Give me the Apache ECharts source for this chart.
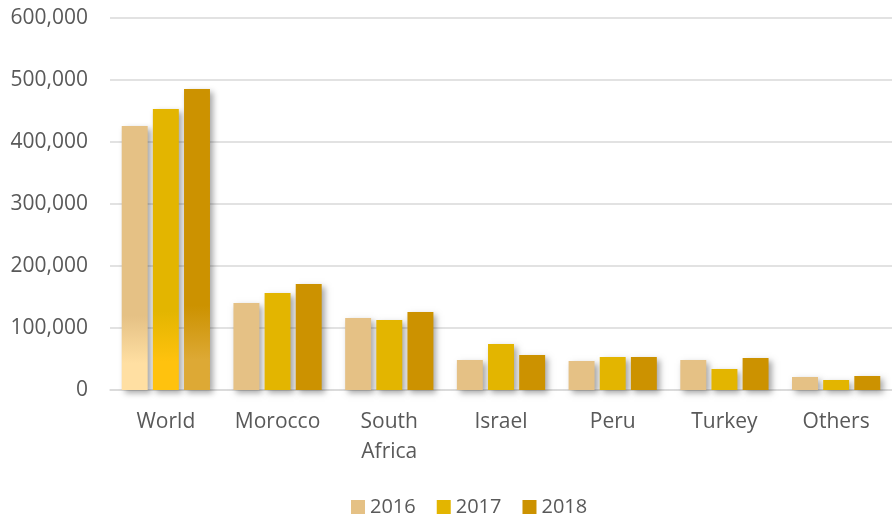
<!DOCTYPE html>
<html>
<head>
<meta charset="utf-8">
<script src="https://cdn.jsdelivr.net/npm/echarts@6/dist/echarts.min.js"></script>
<style>
  html, body { margin: 0; padding: 0; background: #ffffff; }
  #chart { width: 892px; height: 518px; }
</style>
</head>
<body>
<div id="chart"></div>
<script>
// Categories and yearly values
const categories = ['World', 'Morocco', 'South\nAfrica', 'Israel', 'Peru', 'Turkey', 'Others'];
const years = ['2016', '2017', '2018'];
const values2016 = [425800, 140300, 116100, 48400, 46800, 48400, 21000];
const values2017 = [453200, 156500, 112900, 74200, 53200, 33900, 16100];
const values2018 = [485500, 171000, 125800, 56500, 53200, 51600, 22600];
const yTicks = [0, 100000, 200000, 300000, 400000, 500000, 600000];

const colors = ['#E5C185', '#E3B500', '#CC9200'];
const lightColors = ['#FFDFA2', '#FFC20E', '#DDA935'];

const fontFamily = '"Open Sans", "Liberation Sans", sans-serif';

function makeSeries(name, data, idx) {
  return {
    name: name,
    type: 'bar',
    barGap: '20%',
    barCategoryGap: '21%',
    itemStyle: {
      color: colors[idx],
      shadowColor: 'rgba(0,0,0,0.35)',
      shadowBlur: 6,
      shadowOffsetX: 3,
      shadowOffsetY: 3
    },
    data: data.map(function (v, i) {
      if (i === 0) {
        // The world total fades lighter toward its base
        return {
          value: v,
          itemStyle: {
            color: new echarts.graphic.LinearGradient(0, 0, 0, 1, [
              { offset: 0, color: colors[idx] },
              { offset: 0.72, color: colors[idx] },
              { offset: 0.9, color: lightColors[idx] },
              { offset: 1, color: lightColors[idx] }
            ])
          }
        };
      }
      return v;
    })
  };
}

const chart = echarts.init(document.getElementById('chart'));
chart.setOption({
  animation: false,
  textStyle: { fontFamily: fontFamily },
  grid: { left: 110, right: 0, top: 18, bottom: 128, containLabel: false },
  legend: {
    data: years,
    top: 492,
    left: 346,
    itemWidth: 14,
    itemHeight: 14,
    itemGap: 21,
    icon: 'rect',
    textStyle: { fontSize: 20, color: '#595959', fontFamily: fontFamily }
  },
  xAxis: {
    type: 'category',
    data: categories,
    axisTick: { show: false },
    axisLine: { lineStyle: { color: '#D9D9D9', width: 1.5 } },
    axisLabel: {
      fontSize: 21,
      color: '#595959',
      margin: 17,
      lineHeight: 30,
      fontFamily: fontFamily
    }
  },
  yAxis: {
    type: 'value',
    min: yTicks[0],
    max: yTicks[yTicks.length - 1],
    interval: 100000,
    axisLine: { show: false },
    axisTick: { show: false },
    splitLine: { lineStyle: { color: '#D9D9D9', width: 1.5 } },
    axisLabel: {
      fontSize: 21,
      color: '#595959',
      margin: 22,
      fontFamily: fontFamily,
      formatter: function (v) { return v.toLocaleString('en-US'); }
    }
  },
  series: [
    makeSeries(years[0], values2016, 0),
    makeSeries(years[1], values2017, 1),
    makeSeries(years[2], values2018, 2)
  ]
});
</script>
</body>
</html>
